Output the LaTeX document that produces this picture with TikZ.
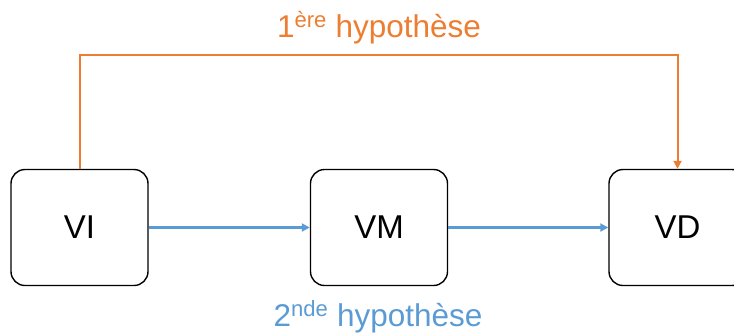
\documentclass[tikz,border=0pt]{standalone}
\usepackage{fontspec}
\setmainfont{Liberation Sans}
\usetikzlibrary{arrows.meta}
\definecolor{hypone}{HTML}{ED7D31}
\definecolor{hyptwo}{HTML}{5B9BD5}
\begin{document}
\begin{tikzpicture}[x=1pt,y=-1pt,
  varbox/.style={draw=black,line width=1.4pt,rounded corners=14pt,
    minimum width=137pt,minimum height=116pt,inner sep=0pt,
    font=\fontsize{33}{36}\selectfont},
  firstlink/.style={draw=hypone,line width=2pt,
    -{Triangle[length=8pt,width=8pt]}},
  secondlink/.style={draw=hyptwo,line width=2.5pt,
    -{Triangle[length=8pt,width=8pt]}},
  hyplabel/.style={font=\fontsize{31.5}{34}\selectfont,inner sep=0pt}]
\useasboundingbox (0,0) rectangle (734,333);
\begin{scope}
\clip (0,0) rectangle (734,333);
\node[varbox] (vi) at (79.5,227.5) {VI};
\node[varbox] (vm) at (379,227.5) {VM};
\node[varbox] (vd) at (677.5,227.5) {VD};
\coordinate (tl) at (vi.north |- 0,55);
\coordinate (tr) at (vd.north |- 0,55);
\draw[firstlink] (vi.north) -- (tl) -- (tr) -- (vd.north);
\draw[secondlink] (vi.east) -- (vm.west);
\draw[secondlink] (vm.east) -- (vd.west);
\node[hyplabel,text=hypone,anchor=base] (h1) at (379,37)
  {1\textsuperscript{ère} hypothèse};
\node[hyplabel,text=hyptwo,anchor=base] (h2) at (378,326)
  {2\textsuperscript{nde} hypothèse};
\end{scope}
\end{tikzpicture}
\end{document}
